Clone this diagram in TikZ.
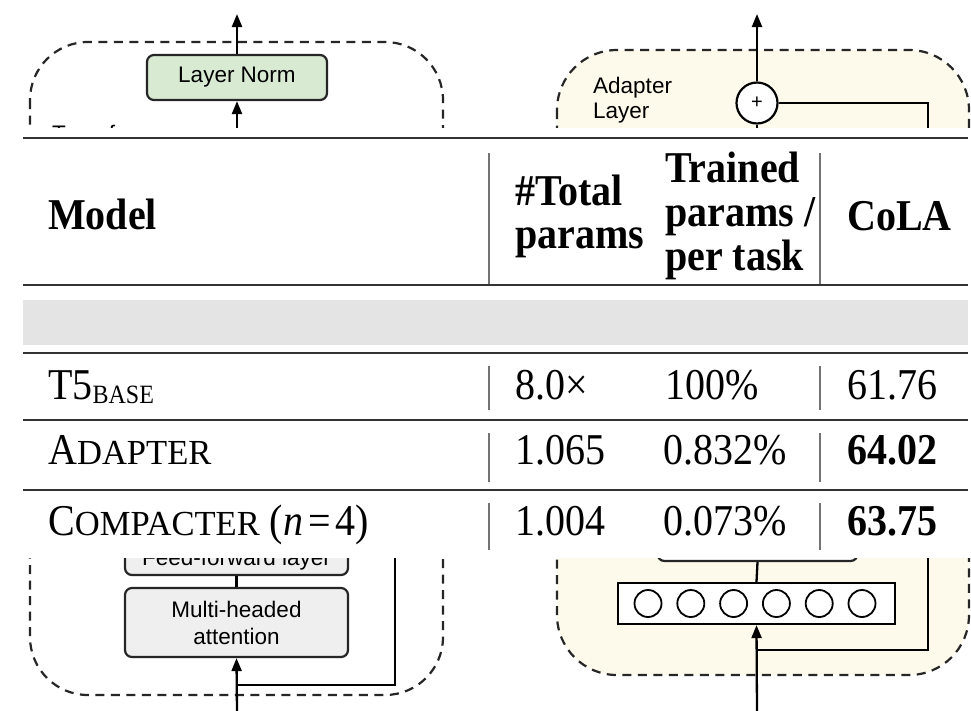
\documentclass[tikz,border=0pt]{standalone}
\usepackage{fontspec}
\usepackage{graphicx}
\setmainfont{Liberation Serif}
\newfontfamily\diagfont{Liberation Sans}
\usetikzlibrary{arrows.meta}
\definecolor{cream}{HTML}{FDF9EB}
\definecolor{lngreen}{HTML}{D9EAD3}
\definecolor{boxgray}{HTML}{EFEFEF}
\definecolor{bandgray}{HTML}{E4E4E4}
\newcommand{\dfont}{\diagfont\fontsize{22.5}{27}\selectfont}
\newcommand{\tfont}{\fontsize{40}{44}\selectfont}
\newcommand{\ys}[1]{\scalebox{1}[1.1]{#1}}
\newcommand{\fsc}[2]{#1{\fontsize{32}{35}\selectfont\scalebox{1.08}[1]{#2}}}
\begin{document}
\begin{tikzpicture}[x=1pt,y=-1pt,
  dbox/.style={draw=black!85, line width=2.2pt, dash pattern=on 9pt off 6.5pt},
  blk/.style={draw=black!85, line width=2.2pt, rounded corners=7pt, font=\dfont, align=center, inner sep=0pt},
  conn/.style={draw=black, line width=2.3pt},
  arr/.style={conn, -{Triangle[length=13pt,width=10pt]}},
  lbl/.style={anchor=base west, inner sep=0pt, font=\dfont},
  tt/.style={anchor=base west, inner sep=0pt, font=\tfont},
  hb/.style={anchor=base west, inner sep=0pt, font=\tfont\bfseries},
  tabrule/.style={draw=black!80, line width=2.8pt},
  vbar/.style={draw=black!55, line width=2.2pt},
]
\useasboundingbox (0,0) rectangle (971,710);
\fill[white] (0,0) rectangle (971,710);

% ---------- left: transformer layer ----------
\draw[dbox, rounded corners=58pt] (30,42) rectangle (443,695);
\node[lbl] (tlabel) at (52,141) {Transformer};
\node[blk, fill=lngreen, minimum width=180pt, minimum height=45pt] (ln) at (237,77.5) {Layer Norm};
\node[blk, fill=boxgray, minimum width=223pt, minimum height=30pt] (ff) at (236.5,560) {Feed-forward layer};
\node[blk, fill=boxgray, minimum width=223pt, minimum height=69pt] (mha) at (236.5,622.5) {Multi-headed\\attention};

\coordinate (lnout) at (237,14);
\coordinate (lnin) at (237,135);
\coordinate (lin) at (237,712);
\coordinate (lres) at (237,685);
\coordinate (lrtop) at (395,540);
\draw[arr] (ln.north) -- (lnout);
\draw[arr] (lnin) -- (ln.south);
\draw[conn] (ff.south) -- (mha.north);
\draw[arr] (lin) -- (mha.south);
\draw[conn] (lres) -| (lrtop);

% ---------- right: adapter layer ----------
\draw[dbox, fill=cream, rounded corners=60pt] (557,50) rectangle (969,675);
\node[lbl] (adl1) at (593,93) {Adapter};
\node[lbl] (adl2) at (593,118) {Layer};
\node[circle, draw=black, line width=2.2pt, fill=white, minimum size=41pt, inner sep=0pt,
      font=\diagfont\fontsize{20}{20}\selectfont] (plus) at (757,103) {+};
\node[draw=black!85, line width=2.2pt, fill=white, minimum width=200pt, minimum height=45pt, rounded corners=7pt] (hid) at (757.5,538.5) {};
\node[draw=black, line width=2.2pt, fill=white, minimum width=277pt, minimum height=41pt, inner sep=0pt] (neu) at (756.5,603.5) {};
\foreach \i in {0,...,5}
  \node[circle, draw=black, line width=1.8pt, minimum size=27pt, inner sep=0pt] (n\i) at ({648+42.8*\i},603.5) {};

\coordinate (plout) at (757,14);
\coordinate (plin) at (757,140);
\coordinate (rrtop) at (928,140);
\coordinate (rin) at (757,712);
\coordinate (rres) at (757,650);
\coordinate (rrbot) at (928,540);
\draw[arr] (plus.north) -- (plout);
\draw[conn] (plin) -- (plus.south);
\draw[conn] (plus.east) -| (rrtop);
\draw[conn] (neu.north) -- (hid.south);
\draw[arr] (rin) -- (neu.south);
\draw[conn] (rres) -| (rrbot);

% ---------- table overlay ----------
\fill[white] (0,128) rectangle (971,558);
\draw[tabrule] (23,138) -- (968,138);
\draw[tabrule] (23,285) -- (968,285);
\fill[bandgray] (23,300) rectangle (968,345);
\draw[tabrule, line width=2.4pt] (23,353) -- (968,353);
\draw[tabrule, line width=2.4pt] (23,420) -- (968,420);
\draw[tabrule, line width=2.4pt] (23,490) -- (968,490);
\foreach \x in {489,820} {
  \draw[vbar] (\x,153) -- (\x,284);
  \draw[vbar] (\x,366) -- (\x,410);
  \draw[vbar] (\x,433) -- (\x,482);
  \draw[vbar] (\x,503) -- (\x,550);
}

\node[hb] (hmodel) at (48,229) {\ys{Model}};
\node[hb] (htot1) at (515,205) {\ys{\#Total}};
\node[hb] (htot2) at (515,248) {\ys{params}};
\node[hb] (htr1) at (665,182) {\ys{Trained}};
\node[hb] (htr2) at (665,226) {\ys{params /}};
\node[hb] (htr3) at (665,270) {\ys{per task}};
\node[hb] (hcola) at (847,230) {\ys{CoLA}};

\node[tt] (m1) at (48,399) {\ys{T5\raisebox{-4pt}{\fontsize{24}{26}\selectfont BASE}}};
\node[tt] (a1) at (515,399) {\ys{8.0×}};
\node[tt] (b1) at (665,399) {\ys{100\%}};
\node[tt] (c1) at (847,399) {\ys{61.76}};

\node[tt] (m2) at (48,464) {\ys{\fsc{A}{DAPTER}}};
\node[tt] (a2) at (515,464) {\ys{1.065}};
\node[tt] (b2) at (663,464) {\ys{0.832\%}};
\node[hb] (c2) at (847,464) {\ys{64.02}};

\node[tt] (m3) at (48,535) {\ys{\fsc{C}{OMPACTER}\hspace{10pt}(\textit{n}\hspace{5pt}=\hspace{5pt}4)}};
\node[tt] (a3) at (515,535) {\ys{1.004}};
\node[tt] (b3) at (663,535) {\ys{0.073\%}};
\node[hb] (c3) at (847,535) {\ys{63.75}};
\end{tikzpicture}
\end{document}
